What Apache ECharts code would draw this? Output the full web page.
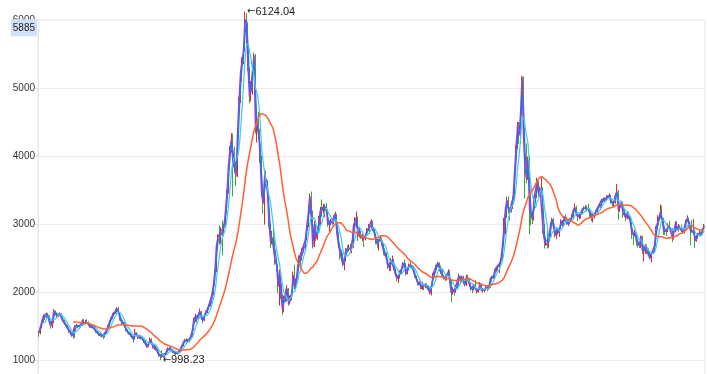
<!DOCTYPE html>
<html>
<head>
<meta charset="utf-8">
<script src="https://cdn.jsdelivr.net/npm/echarts@6/dist/echarts.min.js"></script>
<style>html,body{margin:0;padding:0;background:#fff}#c{width:707px;height:374px}</style>
</head>
<body>
<div id="c"></div>
<script>
// Half-month periods, 2002-01 (2nd half) .. 2020-06
const firstOpen = 1420;
const closes = [
// 2002
1390,1480,1560,1640,1620,1680,1650,1560,1500,1550,1720,1690,1650,1670,1680,1620,1580,1540,1510,1470,1430,1400,1360,
// 2003
1340,1500,1510,1500,1490,1510,1580,1540,1560,1550,1530,1490,1500,1480,1450,1420,1400,1370,1380,1350,1340,1400,1440,1497,
// 2004
1560,1610,1660,1690,1720,1760,1700,1600,1560,1555,1500,1440,1410,1390,1370,1350,1300,1400,1370,1330,1350,1330,1300,1266,
// 2005
1240,1191,1230,1306,1250,1181,1200,1159,1110,1060,1040,1080,1050,1083,1140,1162,1170,1155,1120,1092,1100,1099,1120,1161,
// 2006
1210,1258,1290,1299,1270,1298,1350,1440,1600,1641,1600,1672,1720,1612,1580,1658,1700,1752,1810,1837,1960,2099,2300,2675,
// 2007
2800,2786,2900,2881,2950,3183,3450,3841,4100,4250,3900,3820,3700,4300,4800,5218,5400,5552,6030,5954,5300,4871,5000,5262,
// 2008
5480,4383,4500,4348,4000,3473,3300,3693,3650,3433,3000,2736,2800,2775,2450,2397,2080,2293,1930,1729,1900,1871,2050,1821,
// 2009
1900,1991,2250,2082,2150,2373,2500,2477,2630,2633,2760,2959,3150,3412,3200,2668,3000,2779,2900,2996,3200,3195,3250,3277,
// 2010
3220,2989,2990,3051,3010,3110,3150,2871,2700,2592,2570,2398,2450,2638,2600,2639,2650,2656,2970,2979,3100,2820,2900,2808,
// 2011
2820,2791,2830,2905,2940,2928,3050,2911,2860,2743,2700,2762,2800,2701,2600,2568,2480,2359,2360,2469,2480,2333,2250,2199,
// 2012
2230,2292,2350,2428,2420,2263,2350,2397,2390,2373,2300,2225,2180,2103,2140,2047,2120,2086,2120,2069,2050,1980,2100,2269,
// 2013
2280,2385,2430,2366,2300,2237,2200,2178,2250,2301,2160,1979,2040,1994,2085,2098,2240,2175,2230,2141,2100,2220,2200,2116,
// 2014
2040,2033,2110,2056,2000,2033,2110,2026,2030,2039,2070,2048,2070,2202,2220,2217,2330,2364,2370,2420,2480,2683,2950,3235,
// 2015
3350,3210,3170,3310,3370,3748,4120,4442,4300,4612,5166,4277,3800,3664,3950,3206,3150,3053,3390,3383,3630,3445,3520,3539,
// 2016
2900,2738,2760,2688,2810,3004,3070,2938,2830,2917,2870,2930,3050,2979,3110,3085,3000,3005,3070,3100,3200,3250,3150,3104,
// 2017
3110,3159,3220,3242,3240,3223,3220,3155,3090,3117,3140,3192,3220,3273,3250,3361,3380,3349,3390,3393,3420,3317,3290,3307,
// 2018
3430,3481,3200,3259,3320,3169,3160,3082,3170,3095,3020,2847,2830,2876,2740,2725,2680,2821,2600,2603,2680,2588,2590,2494,
// 2019
2570,2585,2680,2941,3020,3091,3190,3078,2900,2899,2890,2979,2930,2933,2800,2886,3030,2905,2980,2929,2910,2872,2970,3050,
// 2020
3090,2977,2900,2880,2890,2750,2820,2860,2870,2852,2920,2985
];
const highs = [
1430,1500,1580,1670,1680,1700,1690,1660,1570,1570,1748,1730,1700,1690,1700,1690,1630,1590,1550,1520,1480,1440,1410,
1370,1510,1530,1520,1520,1530,1600,1600,1590,1600,1570,1540,1520,1510,1490,1460,1430,1410,1400,1390,1370,1410,1460,1510,
1580,1630,1690,1710,1750,1775,1783,1710,1610,1590,1560,1510,1450,1420,1400,1380,1360,1460,1410,1380,1370,1360,1340,1310,
1280,1250,1250,1330,1320,1260,1220,1210,1160,1120,1090,1140,1100,1100,1160,1190,1200,1190,1160,1130,1110,1120,1140,1170,
1220,1270,1310,1320,1310,1310,1360,1450,1620,1680,1660,1690,1757,1720,1620,1670,1720,1760,1820,1850,1970,2110,2320,2690,
2850,2980,2950,3050,3000,3200,3500,3850,4140,4335,4330,4140,3920,4400,4870,5250,5450,5560,6124.04,6100,5960,5300,5100,5300,
5522,5500,4650,4650,4400,4000,3560,3800,3786,3650,3450,3000,2900,2950,2780,2500,2400,2330,2300,1950,1950,2050,2100,2060,
1950,2010,2300,2400,2200,2400,2540,2530,2650,2690,2800,2980,3180,3450,3478,3200,3050,3000,2950,3120,3250,3361,3300,3290,
3306,3220,3050,3080,3080,3130,3181,3150,2880,2710,2620,2580,2500,2650,2690,2700,2700,2680,3000,3100,3186,3110,2950,2900,
2860,2830,2850,2940,3000,2950,3067,3050,2920,2860,2780,2780,2830,2800,2710,2640,2580,2480,2400,2500,2536,2490,2340,2250,
2250,2320,2370,2440,2478,2420,2370,2420,2453,2400,2380,2300,2240,2180,2160,2140,2150,2120,2130,2120,2080,2050,2130,2280,
2320,2400,2444,2440,2390,2330,2250,2220,2260,2334,2320,2170,2070,2060,2100,2120,2270,2240,2242,2240,2160,2250,2260,2200,
2120,2060,2120,2177,2060,2060,2146,2120,2060,2050,2080,2080,2080,2210,2240,2250,2340,2370,2390,2430,2500,2690,3091,3240,
3400,3406,3250,3330,3400,3760,4160,4500,4500,4700,5178,5170,4300,4184,3990,4000,3300,3200,3400,3450,3680,3640,3550,3684,
3540,3000,2800,2900,2860,3010,3090,3090,2960,2930,2950,2950,3070,3060,3120,3140,3100,3050,3080,3140,3210,3301,3270,3160,
3150,3170,3230,3260,3280,3270,3295,3230,3160,3150,3160,3200,3250,3290,3300,3370,3390,3390,3420,3420,3450,3430,3330,3310,
3440,3587,3500,3290,3330,3330,3220,3170,3190,3180,3120,3030,2860,2915,2880,2750,2730,2830,2830,2670,2700,2700,2640,2600,
2580,2620,2690,2970,3130,3100,3288,3270,3090,2940,2920,3010,3050,2950,2940,2910,3040,3040,3000,2980,2990,2920,2980,3060,
3127,3090,2980,3058,3074,2900,2840,2870,2910,2890,2940,3000
];
const lows = [
1339,1380,1470,1550,1590,1610,1620,1540,1460,1470,1540,1660,1630,1630,1650,1600,1560,1520,1490,1450,1400,1370,1340,
1311,1330,1480,1470,1470,1480,1500,1510,1530,1540,1510,1470,1470,1460,1430,1400,1380,1350,1350,1330,1307,1330,1390,1430,
1490,1550,1600,1640,1680,1700,1680,1580,1530,1520,1480,1420,1390,1370,1340,1320,1260,1300,1350,1310,1310,1300,1280,1250,
1220,1180,1190,1230,1230,1170,1150,1140,1090,1050,998.23,1030,1030,1010,1080,1130,1140,1140,1100,1080,1074,1080,1090,1110,
1160,1200,1250,1270,1250,1260,1290,1340,1440,1560,1550,1590,1660,1590,1540,1570,1640,1690,1740,1790,1830,1950,2090,2290,
2650,2700,2700,2540,2820,2950,3170,3450,3830,4050,3404,3760,3560,3690,4300,4780,5100,5350,5540,5600,5250,4778,4800,4900,
5200,4330,4200,4250,3900,3400,3150,2990,3550,3350,2950,2650,2700,2700,2400,2300,1980,1800,1900,1664,1700,1850,1860,1800,
1820,1880,1990,2040,2040,2150,2360,2400,2460,2580,2620,2760,2950,3150,3100,2639,2660,2750,2770,2900,2980,3100,3150,3100,
3150,2960,2890,2980,2980,3000,3100,2850,2650,2480,2500,2380,2319,2450,2580,2600,2580,2570,2650,2900,2950,2750,2800,2780,
2750,2661,2760,2830,2900,2850,2920,2900,2830,2700,2650,2610,2740,2680,2540,2530,2460,2340,2310,2307,2450,2320,2230,2160,
2132,2200,2280,2340,2380,2242,2260,2330,2360,2340,2280,2210,2160,2100,2100,2040,2029,2030,2060,2050,2020,1960,1949,2100,
2240,2280,2370,2300,2270,2220,2180,2160,2170,2240,2140,1849,1960,1950,1990,2050,2090,2140,2160,2120,2080,2090,2180,2090,
2020,1985,2020,2040,1974,1990,2030,2010,1991,2000,2020,2010,2030,2060,2170,2190,2200,2300,2320,2280,2400,2470,2670,2850,
3090,3150,3050,3170,3220,3360,3740,4100,4180,4200,4600,4200,3373,3600,3650,2850,2980,3000,3050,3300,3380,3400,3400,3500,
2860,2638,2680,2640,2650,2800,2990,2920,2800,2780,2840,2810,2930,2960,2970,3060,2990,2970,3000,3060,3080,3190,3130,3045,
3070,3080,3140,3200,3200,3180,3200,3100,3040,3022,3080,3120,3170,3220,3200,3240,3330,3320,3340,3370,3380,3300,3260,3250,
3300,3410,3062,3180,3250,3090,3110,3040,3070,3080,3000,2782,2690,2820,2680,2653,2644,2650,2560,2449,2560,2560,2550,2480,
2440,2560,2580,2680,2910,2980,3080,3060,2840,2840,2822,2880,2910,2880,2733,2770,2880,2900,2890,2920,2890,2857,2860,2960,
3040,2960,2685,2870,2870,2646,2740,2780,2820,2820,2840,2910
];
const yTicks = [0, 1000, 2000, 3000, 4000, 5000, 6000];
const pointerValue = 5885;
const maWindows = [1, 2, 5, 24];
const maColors = ['#9a3fcf', '#3470e8', '#43c9ea', '#ff6030'];

// category labels (half-month periods)
const categories = [];
for (let y = 2002; y <= 2020; y++) {
  for (let m = 1; m <= 12; m++) {
    for (let h = 0; h < 2; h++) {
      if (y === 2002 && m === 1 && h === 0) continue;
      if (y === 2020 && m > 6) continue;
      categories.push(y + '-' + String(m).padStart(2, '0') + (h ? '-16' : '-01'));
    }
  }
}

const candleData = closes.map((c, i) => [i === 0 ? firstOpen : closes[i - 1], c, lows[i], highs[i]]);

function movingAverage(w) {
  return closes.map((_, i) => {
    if (i < w - 1) return '-';
    let s = 0;
    for (let k = i - w + 1; k <= i; k++) s += closes[k];
    return +(s / w).toFixed(2);
  });
}

const chart = echarts.init(document.getElementById('c'), null, { renderer: 'canvas' });

const lineWidths = [1.5, 1.3, 1.2, 1.5];
const lineSeries = maWindows.map((w, idx) => ({
  name: 'MA' + w,
  type: 'line',
  data: movingAverage(w),
  showSymbol: false,
  symbol: 'none',
  smooth: idx >= 2 ? 0.3 : false,
  lineStyle: { width: lineWidths[idx], color: maColors[idx] },
  itemStyle: { color: maColors[idx] },
  z: 3 + idx
}));

chart.setOption({
  animation: false,
  textStyle: { fontFamily: 'Liberation Sans, Arial, Helvetica, sans-serif' },
  grid: {
    left: 38, right: 2, top: 20, height: 408,
    outerBoundsMode: 'none', containLabel: false,
    show: true, borderColor: '#e8e8e8', borderWidth: 1
  },
  xAxis: {
    type: 'category',
    data: categories,
    boundaryGap: true,
    axisLine: { show: false },
    axisTick: { show: false },
    axisLabel: { show: false },
    splitLine: { show: false }
  },
  yAxis: {
    type: 'value',
    min: yTicks[0],
    max: yTicks[yTicks.length - 1],
    interval: 1000,
    axisLine: { show: true, lineStyle: { color: '#e6e6e6' } },
    axisTick: { show: true, length: 3, lineStyle: { color: '#dcdcdc' } },
    axisLabel: { color: '#333', fontSize: 10, margin: 3, formatter: v => String(v) },
    splitLine: { lineStyle: { color: '#eeeeee' } }
  },
  series: [
    {
      name: 'K',
      type: 'candlestick',
      data: candleData,
      barMaxWidth: 2,
      clip: false,
      itemStyle: {
        color: '#e62828', color0: '#3aa83a',
        borderColor: '#e62828', borderColor0: '#3aa83a',
        borderWidth: 1
      },
      z: 2
    }
  ].concat(lineSeries)
});

// extreme labels and the y-axis pointer label, positioned through the chart's own scales
let maxIdx = 0, minIdx = 0;
highs.forEach((h, i) => { if (h > highs[maxIdx]) maxIdx = i; });
lows.forEach((l, i) => { if (l < lows[minIdx]) minIdx = i; });
const pMax = chart.convertToPixel({ xAxisIndex: 0, yAxisIndex: 0 }, [maxIdx, highs[maxIdx]]);
const pMin = chart.convertToPixel({ xAxisIndex: 0, yAxisIndex: 0 }, [minIdx, lows[minIdx]]);
const py = chart.convertToPixel({ yAxisIndex: 0 }, pointerValue);
const markRich = {
  a: { fontFamily: 'DejaVu Sans', fontSize: 10, fill: '#222' },
  b: { fontFamily: 'Liberation Sans, Arial, sans-serif', fontSize: 11, fill: '#222' }
};
chart.setOption({
  graphic: [
    {
      type: 'text', x: pMax[0] + 2, y: pMax[1], z: 100,
      style: { text: '{a|\u2190}{b|' + highs[maxIdx] + '}', rich: markRich, fill: '#222', align: 'left', verticalAlign: 'middle' }
    },
    {
      type: 'text', x: pMin[0] + 2, y: pMin[1], z: 100,
      style: { text: '{a|\u2190}{b|' + lows[minIdx] + '}', rich: markRich, fill: '#222', align: 'left', verticalAlign: 'middle' }
    },
    {
      type: 'text', x: 37, y: py, z: 100,
      style: {
        text: String(pointerValue), fill: '#222',
        font: '10px Liberation Sans, Arial, sans-serif',
        align: 'right', verticalAlign: 'middle',
        backgroundColor: '#cfe0f8', padding: [4, 2, 3, 2]
      }
    }
  ]
});
</script>
</body>
</html>
